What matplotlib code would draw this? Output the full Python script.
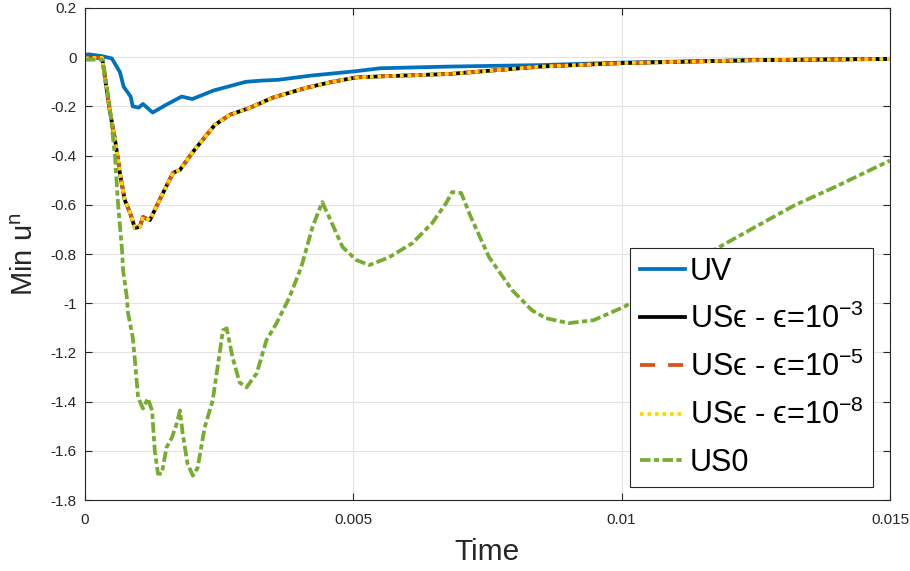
import matplotlib
matplotlib.use("Agg")
import matplotlib.pyplot as plt

plt.rcParams['font.family'] = ['Liberation Sans', 'DejaVu Sans']
plt.rcParams['mathtext.fontset'] = 'custom'
plt.rcParams['mathtext.rm'] = 'Liberation Sans'

# UV curve
t_uv = [0, 0.00005, 0.0003, 0.0005, 0.00065, 0.00072, 0.00085, 0.00089, 0.001,
        0.00108, 0.00126, 0.0015, 0.0018, 0.002, 0.0024, 0.003, 0.0033, 0.0036,
        0.0042, 0.005, 0.0055, 0.0068, 0.0085, 0.01, 0.0125, 0.015]
y_uv = [0.005, 0.012, 0.005, -0.005, -0.06, -0.12, -0.16, -0.2, -0.205,
        -0.19, -0.225, -0.195, -0.16, -0.17, -0.135, -0.1, -0.095, -0.092,
        -0.075, -0.058, -0.045, -0.038, -0.032, -0.022, -0.012, -0.007]

# US-eps curves (all three overlap)
t_us = [0, 0.00032, 0.00037, 0.00046, 0.00056, 0.00065, 0.00074, 0.00084, 0.00093,
        0.00102, 0.00108, 0.00121, 0.00139, 0.00164, 0.00177, 0.00201, 0.00242,
        0.0027, 0.00307, 0.00349, 0.00413, 0.00461, 0.00506, 0.0055, 0.0068,
        0.0085, 0.01, 0.0125, 0.015]
y_us = [-0.005, -0.002, -0.08, -0.214, -0.336, -0.47, -0.58, -0.633, -0.694,
        -0.69, -0.65, -0.662, -0.58, -0.47, -0.458, -0.385, -0.275,
        -0.234, -0.206, -0.165, -0.124, -0.1, -0.082, -0.078, -0.068,
        -0.038, -0.024, -0.012, -0.007]

# US0 curve
t_us0 = [0, 0.00032, 0.00037, 0.00046, 0.00052, 0.00056, 0.00061, 0.00069, 0.00071,
         0.00078, 0.0008, 0.00089, 0.00093, 0.00099, 0.00108, 0.00117, 0.00125,
         0.0013, 0.00136, 0.00143, 0.00152, 0.00162, 0.00171, 0.00177, 0.00182,
         0.00191, 0.00201, 0.0021, 0.00223, 0.00238, 0.00247, 0.00257, 0.00264,
         0.00275, 0.00288, 0.00301, 0.0032, 0.00338, 0.00357, 0.00381, 0.00403,
         0.00424, 0.00442, 0.00455, 0.0048, 0.00506, 0.0053, 0.00567, 0.0061,
         0.00647, 0.00673, 0.00684, 0.00701, 0.00719, 0.00753, 0.00796, 0.00833,
         0.00859, 0.00901, 0.00948, 0.01007, 0.0105, 0.01162, 0.01249, 0.01323,
         0.01398, 0.015]
y_us0 = [-0.01, -0.01, -0.063, -0.2, -0.324, -0.405, -0.58, -0.784, -0.866,
         -0.976, -1.037, -1.139, -1.232, -1.383, -1.428, -1.387, -1.436,
         -1.599, -1.693, -1.693, -1.586, -1.546, -1.489, -1.436, -1.53,
         -1.652, -1.701, -1.668, -1.505, -1.395, -1.261, -1.11, -1.102,
         -1.22, -1.322, -1.342, -1.285, -1.151, -1.081, -0.976, -0.853,
         -0.69, -0.589, -0.65, -0.772, -0.825, -0.845, -0.813, -0.756,
         -0.674, -0.593, -0.548, -0.552, -0.65, -0.813, -0.947, -1.029,
         -1.061, -1.081, -1.069, -1.012, -0.947, -0.796, -0.69, -0.601,
         -0.527, -0.42]

xticks = [0, 0.005, 0.01, 0.015]
xtick_labels = ['0', '0.005', '0.01', '0.015']
yticks = [0.2, 0, -0.2, -0.4, -0.6, -0.8, -1, -1.2, -1.4, -1.6, -1.8]
ytick_labels = ['0.2', '0', '-0.2', '-0.4', '-0.6', '-0.8', '-1', '-1.2', '-1.4', '-1.6', '-1.8']

fig = plt.figure(figsize=(9.1, 5.71), dpi=100)
ax = fig.add_axes([0.0934, 0.1243, 0.8846, 0.8617])

lw = 2.7
ax.plot(t_uv, y_uv, color='#0072BD', lw=lw, label='UV')
ax.plot(t_us, y_us, color='black', lw=lw, label='USϵ - ϵ=10$^{\\mathregular{-3}}$')
ax.plot(t_us, y_us, color='#D95319', lw=lw, dashes=(4, 3.5),
        label='USϵ - ϵ=10$^{\\mathregular{-5}}$')
ax.plot(t_us, y_us, color='#FFD700', lw=lw, dashes=(1, 1),
        label='USϵ - ϵ=10$^{\\mathregular{-8}}$')
ax.plot(t_us0, y_us0, color='#77AC30', lw=lw, dashes=(2.8, 0.9, 1.4, 0.9), label='US0')

ax.set_xlim(0, 0.015)
ax.set_ylim(-1.8, 0.2)
ax.set_xticks(xticks)
ax.set_xticklabels(xtick_labels)
ax.set_yticks(yticks)
ax.set_yticklabels(ytick_labels)
ax.tick_params(direction='in', top=True, right=True, length=5, width=0.8,
               labelsize=11, colors='#262626')
ax.tick_params(axis='x', pad=9)
ax.tick_params(axis='y', pad=6)
ax.grid(True, color='#e3e3e3', lw=0.8)
ax.set_axisbelow(True)
for s in ax.spines.values():
    s.set_color('#262626')
    s.set_linewidth(0.8)

ax.set_xlabel('Time', fontsize=21.5, color='#262626', labelpad=8)
ax.set_ylabel('Min u$^{\\mathregular{n}}$', fontsize=21, color='#262626', labelpad=8)

leg = ax.legend(loc='lower right', bbox_to_anchor=(0.979, 0.026), borderaxespad=0,
                fontsize=22, fancybox=False, framealpha=1, edgecolor='#262626',
                handlelength=1.5, handletextpad=0.15, labelspacing=0.55,
                borderpad=0.3)
leg.get_frame().set_linewidth(0.8)

fig.savefig('out.png', dpi=100)
